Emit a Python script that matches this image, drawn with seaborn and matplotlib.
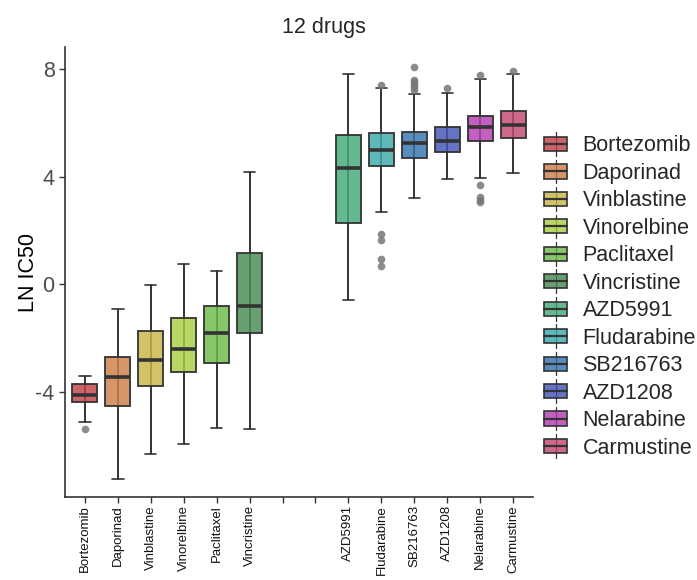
import seaborn as sns
import matplotlib.pyplot as plt
from matplotlib.patches import Rectangle, Patch
from matplotlib.lines import Line2D
from matplotlib.legend_handler import HandlerBase
from matplotlib.colors import to_rgba

sns.set_theme(style="ticks")
plt.rcParams['font.family'] = ['Liberation Sans', 'DejaVu Sans']
plt.rcParams['axes.unicode_minus'] = False

drugs = ["Bortezomib", "Daporinad", "Vinblastine", "Vinorelbine", "Paclitaxel", "Vincristine",
         "AZD5991", "Fludarabine", "SB216763", "AZD1208", "Nelarabine", "Carmustine"]
# box stats (LN IC50)
q1 = [-4.36, -4.53, -3.78, -3.26, -2.92, -1.79, 2.27, 4.41, 4.68, 4.93, 5.31, 5.45]
med = [-4.10, -3.45, -2.82, -2.39, -1.82, -0.79, 4.31, 4.98, 5.24, 5.32, 5.86, 5.91]
q3 = [-3.71, -2.71, -1.75, -1.26, -0.82, 1.18, 5.56, 5.61, 5.67, 5.83, 6.24, 6.44]
whislo = [-5.10, -7.23, -6.32, -5.93, -5.32, -5.39, -0.58, 2.69, 3.22, 3.91, 3.94, 4.12]
whishi = [-3.41, -0.93, -0.03, 0.74, 0.48, 4.19, 7.80, 7.29, 7.07, 7.11, 7.64, 7.80]
outliers = [[-5.39], [], [], [], [], [], [],
            [7.42, 1.88, 1.65, 0.93, 0.68],
            [8.07, 7.60, 7.52, 7.42, 7.33, 7.23],
            [7.31],
            [7.77, 3.70, 3.24, 3.15, 3.05],
            [7.94]]
colors = ["#C03D44", "#CD7C44", "#C7B444", "#A8CD3D", "#69BA44", "#448850",
          "#3DA876", "#37A8A8", "#316FAE", "#3D50B4", "#B437AE", "#C0446F"]
# two empty slots between the groups
positions = [0, 1, 2, 3, 4, 5, 8, 9, 10, 11, 12, 13]
tick_labels = drugs[:6] + ["", ""] + drugs[6:]

edge = "#333333"
alpha = 0.8

fig = plt.figure(figsize=(6.97, 5.8), dpi=100)
ax = fig.add_axes([65 / 697, 83 / 580, 468 / 697, 450 / 580])

stats = [dict(label=d, q1=a, med=m, q3=b, whislo=lo, whishi=hi, fliers=f)
         for d, a, m, b, lo, hi, f in zip(drugs, q1, med, q3, whislo, whishi, outliers)]

ax.vlines(positions, whislo, whishi, color=edge, lw=1.2, zorder=1.5)
bp = ax.bxp(stats, positions=positions, widths=0.75, capwidths=0.35, patch_artist=True,
            boxprops=dict(edgecolor=edge, linewidth=1.3),
            medianprops=dict(color=edge, linewidth=2.6),
            whiskerprops=dict(color=edge, linewidth=1.2),
            capprops=dict(color=edge, linewidth=1.2),
            flierprops=dict(marker="o", markerfacecolor="#777777", markeredgecolor="none",
                            markersize=5.5, alpha=0.85),
            zorder=2)
for patch, c in zip(bp["boxes"], colors):
    patch.set_facecolor(to_rgba(c, alpha))

ax.set_xticks(range(14))
ax.set_xticklabels(tick_labels, rotation=90, fontsize=9.5, color="#111111")
ax.set_xlim(-0.6, 13.6)
ax.set_ylim(-7.9, 8.82)
ax.set_yticks([-4, 0, 4, 8])
ax.tick_params(axis="y", labelsize=15.5, labelcolor="#4D4D4D", length=4, width=1, color=edge)
ax.tick_params(axis="x", length=4, width=1, color=edge, pad=2)
ax.set_ylabel("LN IC50", fontsize=15.5, color="black")
ax.yaxis.set_label_coords(-0.055, 0.5)
for s in ["left", "bottom"]:
    ax.spines[s].set_color(edge)
    ax.spines[s].set_linewidth(1.2)
sns.despine(ax=ax)

fig.text(324 / 697, 1 - 28 / 580, "12 drugs", ha="center", va="center", fontsize=15.5)


class BoxHandler(HandlerBase):
    def create_artists(self, legend, orig_handle, xdescent, ydescent, width, height, fontsize, trans):
        x0, y0 = -xdescent, -ydescent
        cx = x0 + width / 2
        cy = y0 + height / 2
        fc = orig_handle.get_facecolor()
        stub = Line2D([cx, cx], [y0 - 0.25 * height, y0 + 1.25 * height], color=edge, lw=0.9, transform=trans)
        rect = Rectangle((x0 + 0.1 * width, y0 + 0.05 * height), 0.8 * width, 0.9 * height,
                         facecolor=fc, edgecolor=edge, lw=1.2, transform=trans)
        mline = Line2D([x0 + 0.1 * width, x0 + 0.9 * width], [cy, cy], color=edge, lw=1.6, transform=trans)
        return [stub, rect, mline]


handles = [Patch(facecolor=to_rgba(c, alpha), label=d) for c, d in zip(colors, drugs)]
fig.legend(handles=handles, loc="center left", bbox_to_anchor=(533 / 697, 1 - 297 / 580),
           frameon=False, fontsize=15.5, handler_map={Patch: BoxHandler()},
           handlelength=1.3, handleheight=0.75, handletextpad=0.6, labelspacing=0.30,
           borderaxespad=0)

fig.savefig("out.png", dpi=100)
